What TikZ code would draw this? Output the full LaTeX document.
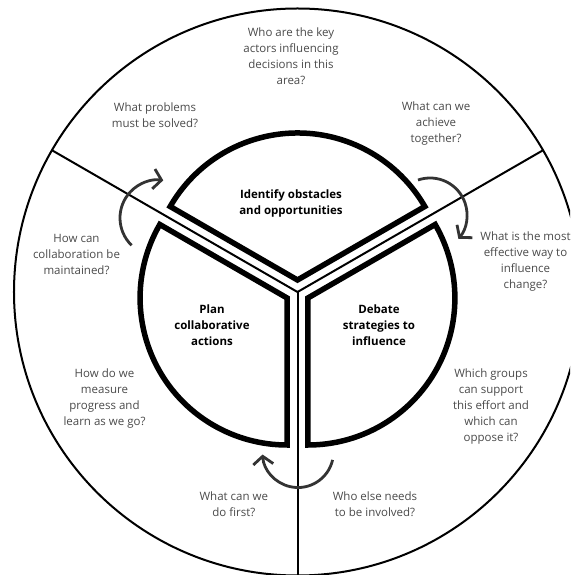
\documentclass[tikz,border=0pt]{standalone}
\usepackage{fontspec}
\setmainfont{Open Sans}
\usetikzlibrary{arrows.meta}
\definecolor{askc}{HTML}{4A4A4A}
\definecolor{arrowc}{HTML}{333333}
\tikzset{
  ask/.style={align=center, font=\fontsize{11.5}{16}\selectfont, text=askc, inner sep=0pt},
  stage/.style={align=center, font=\fontsize{11.5}{16}\selectfont\bfseries, inner sep=0pt},
  sector/.style={line width=5.5pt, line join=miter, miter limit=10},
  divider/.style={line width=2pt},
  arr/.style={-{Straight Barb[length=8pt, width=20pt]}, line width=2.8pt, draw=arrowc},
}
\begin{document}
\begin{tikzpicture}[x=1pt, y=1pt]
\useasboundingbox (-297.5,-283) rectangle (272.5,292);
\clip (-297.5,-283) rectangle (272.5,292);
\coordinate (hub) at (0,0);
% outer ring and dividers
\draw[divider] (hub) circle[radius=283.5];
\draw[divider] (hub) -- (150:283.5);
\draw[divider] (hub) -- (30:283.5);
\draw[divider] (hub) -- (270:283.5);
% the three stages
\draw[sector] (90:12) -- ++(150:147) arc[start angle=150, end angle=30, radius=147] -- cycle;
\draw[sector] (210:12) -- ++(150:147) arc[start angle=150, end angle=270, radius=147] -- cycle;
\draw[sector] (-30:12) -- ++(-90:147) arc[start angle=-90, end angle=30, radius=147] -- cycle;
\node[stage] (sIdentify) at (-6.5,89) {Identify obstacles\\and opportunities};
\node[stage] (sPlan) at (-85.5,-33) {Plan\\collaborative\\actions};
\node[stage] (sDebate) at (81.5,-33) {Debate\\strategies to\\influence};
% questions
\node[ask] (qActors) at (-6.5,235.3) {Who are the key\\actors influencing\\decisions in this\\area?};
\node[ask] (qProblems) at (-142.5,176.4) {What problems\\must be solved?};
\node[ask] (qAchieve) at (138.5,168.5) {What can we\\achieve\\together?};
\node[ask] (qMaintain) at (-221,38) {How can\\collaboration be\\maintained?};
\node[ask] (qEffective) at (228,30) {What is the most\\effective way to\\influence\\change?};
\node[ask] (qMeasure) at (-193,-107) {How do we\\measure\\progress and\\learn as we go?};
\node[ask] (qGroups) at (193.5,-115) {Which groups\\can support\\this effort and\\which can\\oppose it?};
\node[ask] (qFirst) at (-63.7,-212.4) {What can we\\do first?};
\node[ask] (qInvolved) at (77.5,-212.4) {Who else needs\\to be involved?};
% turning arrows
\coordinate (turnA) at (-165.9,46.7);
\coordinate (turnB) at (120.5,112);
\coordinate (turnC) at (35.1,-167.9);
\draw[arr] (turnA) arc[start angle=226, end angle=82, radius=38];
\draw[arr] (turnB) arc[start angle=109, end angle=-40, radius=37];
\draw[arr] (turnC) arc[start angle=-12.8, end angle=-176, radius=35.5];
\end{tikzpicture}
\end{document}
